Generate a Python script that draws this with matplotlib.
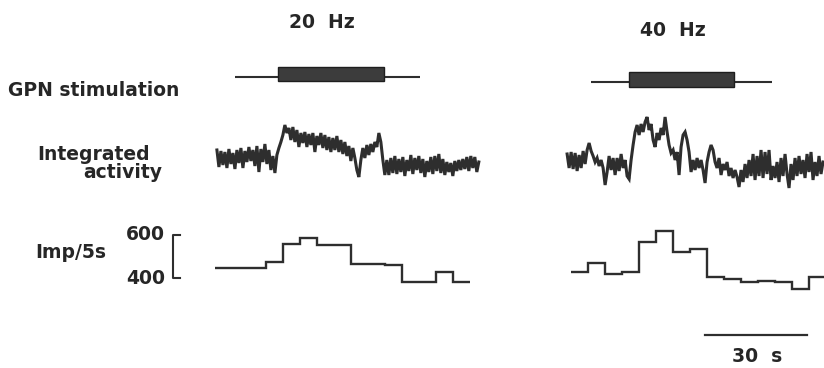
import numpy as np
import matplotlib.pyplot as plt
from matplotlib.patches import Rectangle

## Data (time in s)
freq_labels = ["20 Hz", "40 Hz"]

# stimulation: thin line span and thick (on) span
stim_line = [(69.0, 123.5), (173.8, 227.1)]
stim_on = [(81.8, 112.9), (185.0, 215.9)]

# integrated activity (arbitrary units), one sample every ~0.59 s
act_start = [63.8, 166.8]
act_dt = 0.588
act_20 = [30, 13, 29, 15, 28, 12, 31, 16, 27, 11, 30, 17, 32, 12, 29, 18, 33, 19, 30, 14,
          34, 8, 31, 18, 36, 16, 30, 10, 24, 7,
          25, 32, 38, 45, 55, 47,
          52, 40, 53, 38, 50, 33, 47, 37, 48, 33, 46, 35, 47, 28, 44, 35, 47, 32, 45, 30, 43,
          28, 42, 30, 44, 28, 40, 26, 38,
          24, 34, 19, 32, 22, 10, 3,
          20, 32, 22, 35, 25, 36, 28, 38, 33, 47, 38, 20, 5,
          20, 5, 22, 7, 24, 6, 21, 8, 23, 4, 20, 9, 25, 6, 22, 10, 24, 7, 21, 3,
          19, 8, 23, 6, 24, 9, 26, 7, 21, 5, 18, 8, 17, 4, 19, 9, 20, 10, 21, 11,
          23, 9, 24, 12, 23, 8, 18]
act_40 = [26, 12, 28, 11, 27, 9, 25, 12, 29, 16, 30, 37, 29, 24, 18, 22, 14, 20, 12, -5,
          8, 24, 10, 22, 5, 22, 9, 26, 12, 20, 4, 1, 20, 35, 48, 55, 45, 56, 48, 58,
          63, 50, 56, 40, 33, 47, 40, 52, 45, 63, 48, 35, 27, 30, 20, 28, 5, 33, 45, 48,
          40, 28, 8, 20, 10, 22, 12, 20, 10, -3, 18, 28, 35, 30, 18, 12, 22, 5, 16, 10,
          18, 4, 12, 2, 10, 3, -7,
          10, -2, 16, 2, 20, 4, 26, 0, 24, 4, 30, 2, 28, 6, 30, 0, 14, 2, 18, -2,
          22, 4, 26, 6, -8, 16, 0, 22, 4, 24, 6, 20, 2, 26, 8, 28, 0, 18, 4, 24,
          6, 18]
act_series = [act_20, act_40]

# impulses per 5 s bin
bin_start = [63.2, 167.9]
bin_width = 5.0
imp_20 = [446, 446, 446, 475, 556, 584, 552, 552, 468, 468, 460, 384, 384, 430, 384]
imp_40 = [428, 469, 420, 430, 566, 618, 520, 534, 405, 395, 384, 389, 382, 351, 405]
imp_series = [imp_20, imp_40]

imp_ticks = [400, 600]
scale_bar = (207.4, 237.4)  # 30 s

## Figure
W, H = 824, 368
fig = plt.figure(figsize=(W / 100, H / 100), dpi=100)
plt.rcParams['font.family'] = ['DejaVu Sans']
ink = "#2e2e2e"
xmax = W / 3.4  # seconds across the page


def add_row(top, bottom):
    ax = fig.add_axes([0, 1 - bottom / H, 1, (bottom - top) / H])
    ax.set_xlim(0, xmax)
    ax.axis("off")
    return ax


ax_stim = add_row(55, 100)
ax_act = add_row(110, 195)
ax_imp = add_row(220, 300)
ax_bar = add_row(320, 345)

# stimulation rows
ax_stim.set_ylim(0, 1)
stim_y = [0.52, 0.4]
for (l0, l1), (s0, s1), y in zip(stim_line, stim_on, stim_y):
    ax_stim.plot([l0, l1], [y, y], color=ink, lw=1.5, solid_capstyle="butt", zorder=1)
    ax_stim.add_patch(Rectangle((s0, y - 0.1), s1 - s0, 0.32,
                                facecolor="#3c3c3c", edgecolor="#1e1e1e", lw=1, zorder=2))

# integrated activity
ax_act.set_ylim(-15, 70)
for t0, vals in zip(act_start, act_series):
    t = t0 + act_dt * np.arange(len(vals))
    ax_act.plot(t, vals, color=ink, lw=2.2, solid_joinstyle="miter")

# impulse counts
ax_imp.set_ylim(300, 669)
for b0, vals in zip(bin_start, imp_series):
    edges = b0 + bin_width * np.arange(len(vals) + 1)
    ax_imp.stairs(vals, edges, color=ink, lw=1.7, baseline=None)

# calibration bracket
bx, tick = 50.9, 2.0
ax_imp.plot([bx + tick, bx, bx, bx + tick], [imp_ticks[1], imp_ticks[1], imp_ticks[0], imp_ticks[0]],
            color=ink, lw=1.5)
for v in imp_ticks:
    ax_imp.text(bx - 2.3, v, str(v), ha="right", va="center", fontsize=13.5,
                fontweight="bold", color="#262626")

# time scale bar
ax_bar.set_ylim(0, 1)
ax_bar.plot(scale_bar, [0.4, 0.4], color=ink, lw=1.6)

# labels
txt = dict(fontsize=13.5, color="#262626", va="center", fontweight="bold")
fig.text(322 / W, 1 - 22 / H, freq_labels[0].replace(" ", "  "), ha="center", **txt)
fig.text(673 / W, 1 - 30 / H, freq_labels[1].replace(" ", "  "), ha="center", **txt)
fig.text(8 / W, 1 - 90 / H, "GPN stimulation", ha="left", **txt)
fig.text(37 / W, 1 - 155 / H, "Integrated", ha="left", **txt)
fig.text(83 / W, 1 - 172 / H, "activity", ha="left", **txt)
fig.text(35 / W, 1 - 252 / H, "Imp/5s", ha="left", **txt)
fig.text(757 / W, 1 - 357 / H, "30  s", ha="center", **txt)

fig.savefig("out.png", dpi=100)
